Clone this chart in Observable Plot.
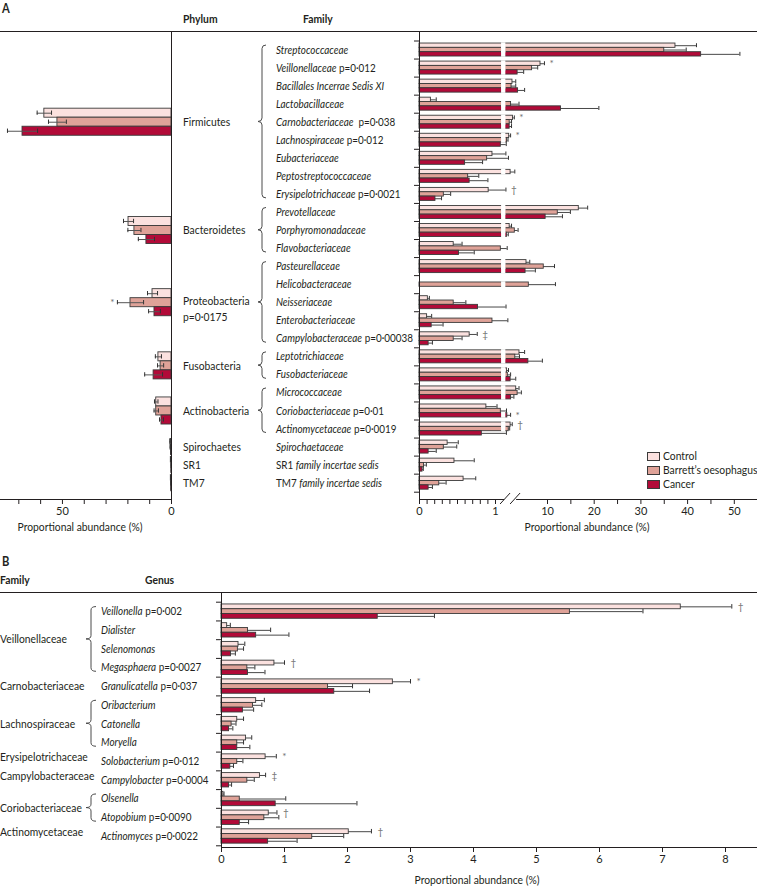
<!DOCTYPE html>
<html><head><meta charset="utf-8">
<script src="https://cdn.jsdelivr.net/npm/d3@7"></script>
<script src="https://cdn.jsdelivr.net/npm/@observablehq/plot@0.6"></script>
<style>
html,body{margin:0;padding:0;background:#fff;}
#root{position:relative;width:757px;height:886px;overflow:hidden;font-family:"Lato",sans-serif;color:#231f20;}
#root .abs{position:absolute;white-space:nowrap;line-height:1;}
#root svg{position:absolute;overflow:visible;}
</style></head><body><div id="root"></div>
<script>
// ---------------- DATA ----------------
const groups = ["Control", "Barrett\u2019s oesophagus", "Cancer"];
const colors = ["#fbe1df", "#dfa298", "#b20a38"];

// Panel A – phylum level (left)
const phyla = ["Firmicutes","Bacteroidetes","Proteobacteria","Fusobacteria","Actinobacteria","Spirochaetes","SR1","TM7"];
const phylumP = ["","","p=0\u00b70175","","","","",""];
const phylumFamilyCount = [9,3,5,2,3,1,1,1];
const phylumControl    = [58.3,19.7,8.7,6.0,7.0,0.5,0.3,0.3];
const phylumControlErr = [3.3,2.3,2.3,1.4,0.8,0.2,0.1,0.1];
const phylumBarrett    = [52.3,17.0,18.8,5.0,7.0,0.4,0.1,0.2];
const phylumBarrettErr = [4.1,3.0,6.0,1.4,1.0,0.2,0.05,0.1];
const phylumCancer     = [68.3,11.5,7.8,8.2,4.6,0.2,0.05,0.1];
const phylumCancerErr  = [6.9,3.7,2.7,4.1,0.9,0.1,0.05,0.05];
const phylumMarks = [{phylum: "Proteobacteria", group: 1, mark: "*"}];
const phylumTicks = [0,10,20,30,40,50,60,70];
const phylumTickLabels = [0,50];

// Panel A – family level (right)
const familyNames = ["Streptococcaceae","Veillonellaceae","Bacillales Incerrae Sedis XI","Lactobacillaceae","Carnobacteriaceae","Lachnospiraceae","Eubacteriaceae","Peptostreptococcaceae","Erysipelotrichaceae","Prevotellaceae","Porphyromonadaceae","Flavobacteriaceae","Pasteurellaceae","Helicobacteraceae","Neisseriaceae","Enterobacteriaceae","Campylobacteraceae","Leptotrichiaceae","Fusobacteriaceae","Micrococcaceae","Coriobacteriaceae","Actinomycetaceae","Spirochaetaceae","SR1 family incertae sedis","TM7 family incertae sedis"];
const familyP = ["","p=0\u00b7012","","","\u00a0p=0\u00b7038","p=0\u00b7012","","","p=0\u00b70021","","","","","","","","p=0\u00b700038","","","","p=0\u00b701","p=0\u00b70019","","",""];
const familyControl    = [37.4,8.5,2.5,0.15,2.6,1.8,0.96,2.1,0.91,16.7,1.9,0.45,5.5,0,0.11,0.10,0.66,4.0,1.35,3.3,0.88,2.1,0.37,0.46,0.58];
const familyControlErr = [4.5,0.85,0.7,0.07,0.3,0.3,0.13,0.9,0.19,1.9,0.4,0.11,0.7,0,0.02,0.06,0.1,1.1,0.3,0.6,0.14,0.35,0.14,0.26,0.16];
const familyBarrett    = [35.0,6.7,2.3,2.2,1.9,1.35,0.89,0.64,0.32,12.2,3.0,1.07,9.2,6.0,0.45,0.96,0.45,3.1,1.5,3.6,1.07,1.7,0.32,0.06,0.26];
const familyBarrettErr = [4.7,1.2,0.9,1.7,0.4,0.2,0.75,0.14,0.09,2.7,0.7,0.3,2.3,5.7,0.16,0.55,0.11,0.9,0.6,0.8,0.15,0.2,0.17,0.03,0.09];
const familyCancer     = [42.9,3.6,3.7,12.9,1.9,1.07,0.6,0.66,0.21,9.6,1.3,0.52,5.3,0,0.77,0.16,0.12,5.9,2.1,2.2,1.4,0.82,0.12,0.04,0.12];
const familyCancerErr  = [8.3,1.3,1.4,8.1,0.4,0.1,0.23,0.24,0.08,3.6,0.3,0.2,2.1,0,0.35,0.15,0.05,3.0,1.1,0.6,0.7,0.38,0.1,0.01,0.05];
const familyMarks = [
  {name: "Veillonellaceae", group: 0, mark: "*"},
  {name: "Carnobacteriaceae", group: 0, mark: "*"},
  {name: "Lachnospiraceae", group: 0, mark: "*"},
  {name: "Erysipelotrichaceae", group: 0, mark: "\u2020"},
  {name: "Campylobacteraceae", group: 0, mark: "\u2021"},
  {name: "Coriobacteriaceae", group: 2, mark: "*"},
  {name: "Actinomycetaceae", group: 0, mark: "\u2020"}
];
const familyBreak = 1.08;   // axis break value
const familyTicks = [0,0.1,0.2,0.3,0.4,0.5,0.6,0.7,0.8,0.9,1,10,15,20,25,30,35,40,45,50,55];
const familyTickLabels = [0,1,10,20,30,40,50];

// Panel B – genus level
const familiesB = ["Veillonellaceae","Carnobacteriaceae","Lachnospiraceae","Erysipelotrichaceae","Campylobacteraceae","Coriobacteriaceae","Actinomycetaceae"];
const familyBGenusCount = [4,1,3,1,1,2,1];
const genusNames = ["Veillonella","Dialister","Selenomonas","Megasphaera","Granulicatella","Oribacterium","Catonella","Moryella","Solobacterium","Campylobacter","Olsenella","Atopobium","Actinomyces"];
const genusP = ["p=0\u00b7002","","","p=0\u00b70027","p=0\u00b7037","","","","p=0\u00b7012","p=0\u00b70004","","p=0\u00b70090","p=0\u00b70022"];
const genusControl    = [7.29,0.09,0.27,0.84,2.72,0.55,0.25,0.39,0.70,0.61,0.03,0.75,2.02];
const genusControlErr = [0.81,0.05,0.10,0.16,0.28,0.13,0.10,0.09,0.17,0.09,0.01,0.13,0.36];
const genusBarrett    = [5.53,0.42,0.26,0.41,1.69,0.50,0.16,0.25,0.25,0.41,0.29,0.68,1.44];
const genusBarrettErr = [1.16,0.36,0.09,0.12,0.39,0.14,0.07,0.10,0.09,0.11,0.73,0.23,0.50];
const genusCancer     = [2.48,0.55,0.15,0.42,1.79,0.34,0.12,0.25,0.14,0.12,0.86,0.29,0.74];
const genusCancerErr  = [0.90,0.52,0.07,0.27,0.56,0.17,0.06,0.20,0.05,0.04,1.29,0.14,0.46];
const genusMarks = [
  {name: "Veillonella", group: 0, mark: "\u2020"},
  {name: "Megasphaera", group: 0, mark: "\u2020"},
  {name: "Granulicatella", group: 0, mark: "*"},
  {name: "Solobacterium", group: 0, mark: "*"},
  {name: "Campylobacter", group: 0, mark: "\u2021"},
  {name: "Atopobium", group: 0, mark: "\u2020"},
  {name: "Actinomyces", group: 0, mark: "\u2020"}
];
const genusTicks = [0,1,2,3,4,5,6,7,8];

const axisTitle = "Proportional abundance (%)";

// ---------------- HELPERS ----------------
const FONT = '"Lato",sans-serif';
const SX = 0.86;               // horizontal condensing of text (reference face is narrow)
const INK = "#231f20";
const MARKC = "#6e6e6e";
const root = document.getElementById("root");
function addDiv(html, css, origin = "0 0") {
  const d = document.createElement("div");
  d.className = "abs"; d.innerHTML = html;
  Object.assign(d.style, {transform: `scaleX(${SX})`, transformOrigin: origin}, css);
  root.appendChild(d); return d;
}
function place(svg, left, top) { svg.style.left = left + "px"; svg.style.top = top + "px"; root.appendChild(svg); }
const svgStyle = {fontFamily: FONT, fontSize: "11px", color: INK, background: "none", overflow: "visible"};

function longFormat(names, series, errs, thick, offsetFn) {
  return names.flatMap((name, i) => groups.map((g, j) => {
    const y1 = offsetFn(i, j);
    return {name, row: i, group: g, j, v: series[j][i], err: errs[j][i], y1, y2: y1 + thick(i), yc: y1 + thick(i) / 2};
  }));
}
function cumStarts(counts) { const s = []; let acc = 0; for (const c of counts) { s.push(acc); acc += c; } return s; }

function braceMark(items, xTip, xArm) {
  return (index, scales) => {
    const g = d3.create("svg:g").attr("fill", "none").attr("stroke", "#4a4a4a").attr("stroke-width", 1);
    const xm = (xTip + xArm) / 2, r = 3.5;
    for (const it of items) {
      const y1 = scales.y(it.from) - 4.5, y2 = scales.y(it.to) + 4, ym = (y1 + y2) / 2;
      g.append("path").attr("d",
        `M${xArm},${y1} Q${xm},${y1} ${xm},${y1 + r} L${xm},${ym - r} Q${xm},${ym} ${xTip},${ym} ` +
        `Q${xm},${ym} ${xm},${ym + r} L${xm},${y2 - r} Q${xm},${y2} ${xArm},${y2}`);
    }
    return g.node();
  };
}
function richLabels(items, x, size) {
  return (index, scales) => {
    const g = d3.create("svg:g").attr("font-family", FONT).attr("fill", INK).attr("font-size", size).attr("text-anchor", "start");
    for (const it of items) {
      const y = scales.y(it.y) + (it.dy || 0);
      const t = g.append("text").attr("transform", `translate(${x},${y}) scale(${SX},1)`).attr("dy", "0.35em");
      for (const [s, st] of it.parts) t.append("tspan").attr("font-style", st === "i" ? "italic" : "normal").text(s);
    }
    return g.node();
  };
}
function nameParts(name, p) {
  const parts = [];
  const m = name.match(/^(SR1|TM7) (.*)$/);
  if (m) { parts.push([m[1] + " ", "r"], [m[2], "i"]); } else parts.push([name, "i"]);
  if (p) parts.push([" " + p, "r"]);
  return parts;
}

// ---------------- PANEL A: LEFT (phylum) ----------------
const phyStarts = cumStarts(phylumFamilyCount);
const phyCenter = phyla.map((_, i) => phyStarts[i] + phylumFamilyCount[i] / 2);
const phyThick = i => phylumFamilyCount[i] >= 2 ? 0.5 : 0.3;
const phyBars = longFormat(phyla, [phylumControl, phylumBarrett, phylumCancer], [phylumControlErr, phylumBarrettErr, phylumCancerErr],
  phyThick, (i, j) => phyCenter[i] - 1.5 * phyThick(i) + j * phyThick(i));
const phyErr = phyBars.filter(d => d.err > 0);
const phyAnn = phylumMarks.map(m => ({...phyBars.find(d => d.name === m.phylum && d.j === m.group), mark: m.mark}));

const leftA = Plot.plot({
  width: 172, height: 540, marginTop: 31, marginBottom: 41, marginLeft: 0, marginRight: 1,
  x: {domain: [78.4, 0], range: [0, 171]},
  y: {domain: [0, familyNames.length], range: [40.5, 491.7], axis: null},
  color: {domain: groups, range: colors},
  style: svgStyle,
  marks: [
    Plot.rect(phyBars.filter(d => d.v > 0), {x1: () => 0, x2: "v", y1: "y1", y2: "y2", fill: "group", stroke: "#3a3a3a", strokeWidth: 0.9}),
    Plot.ruleY(phyErr, {x1: d => d.v - d.err, x2: d => d.v + d.err, y: "yc", stroke: "#555", strokeWidth: 1}),
    Plot.ruleX(phyErr, {x: d => d.v - d.err, y1: d => d.yc - 0.12, y2: d => d.yc + 0.12, stroke: "#333", strokeWidth: 1}),
    Plot.ruleX(phyErr, {x: d => d.v + d.err, y1: d => d.yc - 0.12, y2: d => d.yc + 0.12, stroke: "#333", strokeWidth: 1}),
    Plot.text(phyAnn, {x: d => d.v + d.err, y: "yc", text: "mark", dx: -3, textAnchor: "end", fill: MARKC, fontSize: 10}),
    Plot.axisX({ticks: phylumTicks, tickFormat: d => phylumTickLabels.includes(d) ? String(d) : "", tickSize: 5, tickPadding: 3, label: null}),
    Plot.frame({anchor: "bottom", stroke: INK}),
    Plot.frame({anchor: "right", stroke: INK})
  ]
});
place(leftA, 0, 0);

// ---------------- PANEL A: RIGHT (family) ----------------
const famBars = longFormat(familyNames, [familyControl, familyBarrett, familyCancer], [familyControlErr, familyBarrettErr, familyCancerErr],
  () => 0.24, (i, j) => i + 0.5 - 0.36 + j * 0.24);
const famErr = famBars.filter(d => d.err > 0 && d.v > 0);
const famAnn = familyMarks.map(m => ({...famBars.find(d => d.name === m.name && d.j === m.group), mark: m.mark}));
const brk2 = familyBreak + 1e-6;
// piecewise (broken) axis: 0–break on a fine scale, break–55 on a coarse one
const xDomA = [0, familyBreak, brk2, 55];
const xRangeA = [247, 247 + 76 * familyBreak, 375 + 4.67 * (brk2 - 10), 375 + 4.67 * 45];

const phyItems = phyla.map((p, i) => ({y: phyCenter[i], dy: phylumP[i] ? -1 : 0, parts: [[p, "r"]]}))
  .concat(phyla.map((p, i) => phylumP[i] ? {y: phyCenter[i], dy: 15, parts: [[phylumP[i], "r"]]} : null).filter(Boolean));
const famItems = familyNames.map((n, i) => ({y: i + 0.5, parts: nameParts(n, familyP[i])}));
const famBraces = phyla.map((p, i) => phylumFamilyCount[i] >= 2 ? {from: phyStarts[i] + 0.5, to: phyStarts[i] + phylumFamilyCount[i] - 0.5} : null).filter(Boolean);

const breakMarks = (index, scales, values, dims) => {
  const x0 = scales.x(familyBreak), ya = dims.height - dims.marginBottom;
  const g = d3.create("svg:g");
  g.append("rect").attr("x", x0 + 3).attr("y", ya - 1.5).attr("width", 12).attr("height", 3).attr("fill", "white");
  for (const o of [0, 10]) g.append("line").attr("x1", x0 - 1 + o).attr("y1", ya + 5).attr("x2", x0 + 9 + o).attr("y2", ya - 6)
    .attr("stroke", INK).attr("stroke-width", 1);
  return g.node();
};

const rightA = Plot.plot({
  width: 585, height: 540, marginTop: 31, marginBottom: 41, marginLeft: 247, marginRight: 0,
  x: {type: "linear", domain: xDomA, range: xRangeA},
  y: {domain: [0, familyNames.length], range: [40.5, 491.7]},
  color: {domain: groups, range: colors},
  style: svgStyle,
  marks: [
    Plot.rect(famBars.filter(d => d.v > 0), {x1: () => 0, x2: "v", y1: "y1", y2: "y2", fill: "group", stroke: "#3a3a3a", strokeWidth: 0.9}),
    Plot.rect(famBars.filter(d => d.v > familyBreak), {x1: () => familyBreak, x2: () => brk2, y1: d => d.y1 - 0.04, y2: d => d.y2 + 0.04, fill: "white"}),
    Plot.ruleY(famErr, {x1: "v", x2: d => d.v + d.err, y: "yc", stroke: "#333", strokeWidth: 0.9}),
    Plot.ruleX(famErr, {x: d => d.v + d.err, y1: d => d.yc - 0.11, y2: d => d.yc + 0.11, stroke: "#333", strokeWidth: 1}),
    Plot.text(famAnn, {x: d => d.v + d.err, y: "yc", text: "mark", dx: 5, textAnchor: "start", fill: MARKC, fontSize: 10}),
    Plot.axisX({ticks: familyTicks, tickFormat: d => familyTickLabels.includes(d) ? String(d) : "", tickSize: 5, tickPadding: 3, label: null}),
    Plot.axisY({ticks: d3.range(familyNames.length + 1), tickFormat: () => "", tickSize: 5, label: null}),
    Plot.frame({anchor: "left", stroke: INK}),
    Plot.frame({anchor: "bottom", stroke: INK}),
    breakMarks,
    braceMark(famBraces, 86, 94),
    richLabels(phyItems, 11, 12),
    richLabels(famItems, 104, 11.5)
  ]
});
place(rightA, 172, 0);

// ---------------- PANEL B (genus) ----------------
const famBStarts = cumStarts(familyBGenusCount);
const genBars = longFormat(genusNames, [genusControl, genusBarrett, genusCancer], [genusControlErr, genusBarrettErr, genusCancerErr],
  () => 0.255, (i, j) => i + 0.5 - 0.38 + j * 0.255);
const genErr = genBars.filter(d => d.err > 0);
const genAnn = genusMarks.map(m => ({...genBars.find(d => d.name === m.name && d.j === m.group), mark: m.mark}));
const famBItems = familiesB.map((f, i) => ({y: famBStarts[i] + familyBGenusCount[i] / 2, dy: familyBGenusCount[i] === 1 && i > 1 ? -4 : 0, parts: [[f, "r"]]}));
const genItems = genusNames.map((n, i) => ({y: i + 0.5, parts: nameParts(n, genusP[i])}));
const genBraces = familiesB.map((f, i) => familyBGenusCount[i] >= 2 ? {from: famBStarts[i] + 0.5, to: famBStarts[i] + familyBGenusCount[i] - 0.5} : null).filter(Boolean);

const plotB = Plot.plot({
  width: 757, height: 326, marginTop: 32, marginBottom: 39, marginLeft: 221, marginRight: 0,
  x: {domain: [0, 536 / 63], range: [221, 757]},
  y: {domain: [0, genusNames.length], range: [41.7, 285.3]},
  color: {domain: groups, range: colors},
  style: svgStyle,
  marks: [
    Plot.rect(genBars.filter(d => d.v > 0), {x1: () => 0, x2: "v", y1: "y1", y2: "y2", fill: "group", stroke: "#3a3a3a", strokeWidth: 0.9}),
    Plot.ruleY(genErr, {x1: "v", x2: d => d.v + d.err, y: "yc", stroke: "#333", strokeWidth: 0.9}),
    Plot.ruleX(genErr, {x: d => d.v + d.err, y1: d => d.yc - 0.12, y2: d => d.yc + 0.12, stroke: "#333", strokeWidth: 1}),
    Plot.text(genAnn, {x: d => d.v + d.err, y: "yc", text: "mark", dx: 6, textAnchor: "start", fill: MARKC, fontSize: 10}),
    Plot.axisX({ticks: genusTicks, tickFormat: d => String(d), tickSize: 5, tickPadding: 3, label: null}),
    Plot.axisY({ticks: d3.range(genusNames.length + 1), tickFormat: () => "", tickSize: 5, label: null}),
    Plot.frame({anchor: "left", stroke: INK}),
    Plot.frame({anchor: "bottom", stroke: INK}),
    braceMark(genBraces, 86, 96),
    richLabels(famBItems, 0, 12),
    richLabels(genItems, 101, 11.5)
  ]
});
place(plotB, 0, 560);

// ---------------- TITLES, RULES, LEGEND ----------------
addDiv("A", {left: "2px", top: "2px", fontWeight: "bold", fontSize: "13px"});
addDiv("Phylum", {left: "183px", top: "13px", fontWeight: "bold", fontSize: "12px"});
addDiv("Family", {left: "303px", top: "13px", fontWeight: "bold", fontSize: "12px"});
addDiv("", {left: "0px", top: "31px", width: "757px", height: "1px", background: INK, transform: "none"});
addDiv(axisTitle, {left: "-20px", width: "200px", textAlign: "center", top: "521px", fontSize: "12px"}, "50% 0");
addDiv(axisTitle, {left: "487px", width: "200px", textAlign: "center", top: "521px", fontSize: "12px"}, "50% 0");

addDiv("B", {left: "2px", top: "555px", fontWeight: "bold", fontSize: "13px"});
addDiv("Family", {left: "0px", top: "574px", fontWeight: "bold", fontSize: "12px"});
addDiv("Genus", {left: "145px", top: "574px", fontWeight: "bold", fontSize: "12px"});
addDiv("", {left: "0px", top: "592px", width: "757px", height: "1px", background: INK, transform: "none"});
addDiv(axisTitle, {left: "377px", width: "200px", textAlign: "center", top: "874px", fontSize: "12px"}, "50% 0");

groups.forEach((g, j) => {
  addDiv("", {left: "647px", top: (452 + j * 14) + "px", width: "13px", height: "9px", background: colors[j], border: "1px solid #3a3a3a", boxSizing: "border-box", transform: "none"});
  addDiv(g, {left: "663px", top: (450 + j * 14) + "px", fontSize: "12px"});
});
</script></body></html>
